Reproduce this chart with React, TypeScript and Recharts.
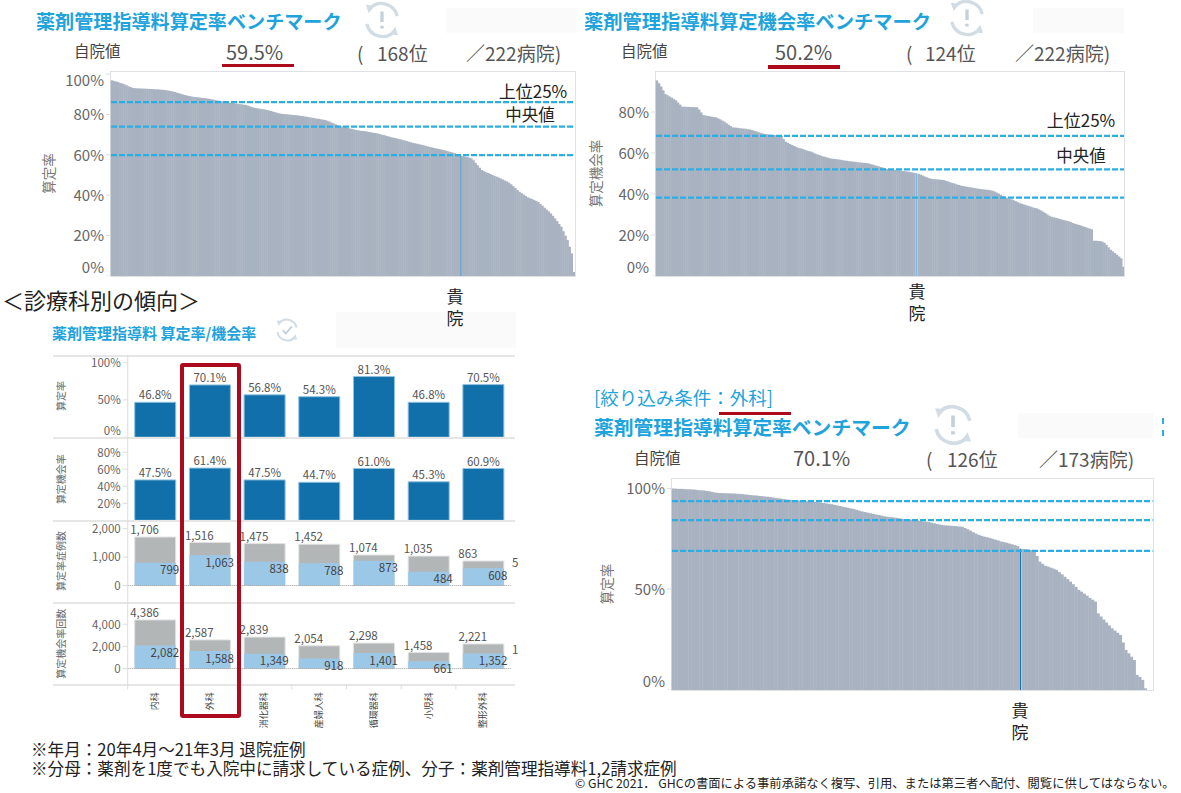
import { Bar, BarChart, LabelList, ReferenceLine, XAxis, YAxis } from "recharts";

const FONT = '"Noto Sans CJK JP", "Noto Sans", sans-serif';
const BLUE_TEXT = "#1ea3dc";
const RED = "#ad0a1e";
const BAR_GREY = "#a8b2c0";
const DASH = "#2aaee4";

const rateAll = [
  96.9, 96.6, 96.3, 96.0, 95.6, 95.3, 94.9, 94.4, 93.9, 93.5,
  93.1, 93.0, 92.9, 92.9, 92.8, 92.8, 92.7, 92.7, 92.6, 92.6,
  92.5, 92.4, 92.4, 92.3, 92.2, 92.1, 92.0, 91.8, 91.6, 91.4,
  91.1, 90.8, 90.5, 90.2, 89.9, 89.6, 89.3, 89.1, 88.9, 88.7,
  88.6, 88.5, 88.3, 88.2, 88.1, 88.0, 87.8, 87.6, 87.4, 87.2,
  87.0, 86.8, 86.6, 86.4, 86.2, 86.1, 85.9, 85.7, 85.6, 85.4,
  85.3, 85.1, 85.0, 84.8, 84.7, 84.4, 84.0, 83.6, 83.3, 83.1,
  82.9, 82.8, 82.6, 82.5, 82.2, 82.0, 81.7, 81.4, 81.1, 80.8,
  80.5, 80.3, 80.2, 80.1, 80.0, 79.9, 79.8, 79.7, 79.6, 79.5,
  79.3, 79.2, 79.0, 78.9, 78.7, 78.5, 78.3, 78.1, 77.9, 77.8,
  77.6, 77.4, 77.2, 76.9, 76.5, 76.0, 75.6, 75.1, 74.7, 74.3,
  74.0, 73.8, 73.6, 73.3, 73.0, 72.8, 72.5, 72.3, 72.1, 71.9,
  71.8, 71.7, 71.5, 71.3, 71.1, 70.9, 70.8, 70.6, 70.3, 70.0,
  69.8, 69.5, 69.2, 68.9, 68.6, 68.4, 68.2, 67.9, 67.7, 67.4,
  67.1, 66.8, 66.5, 66.2, 65.9, 65.7, 65.5, 65.2, 65.0, 64.8,
  64.5, 64.2, 63.9, 63.7, 63.4, 63.2, 63.0, 62.8, 62.5, 62.3,
  62.0, 61.7, 61.4, 61.1, 60.8, 60.4, 60.0, 59.5, 59.3, 59.1,
  58.9, 58.6, 58.3, 57.3, 56.0, 54.8, 53.6, 52.5, 51.9, 51.4,
  51.0, 50.5, 50.0, 49.6, 49.2, 48.8, 48.3, 47.8, 47.3, 46.8,
  46.2, 45.4, 44.5, 43.6, 42.6, 41.7, 41.0, 40.3, 39.6, 38.9,
  38.5, 38.1, 37.6, 37.1, 36.6, 35.7, 34.8, 33.8, 32.9, 32.0,
  31.0, 29.8, 28.5, 27.2, 25.8, 24.4, 22.2, 20.0, 17.8, 14.5,
  11.2, 2.0,
];

const opportunityAll = [
  95.4, 94.0, 92.4, 90.6, 88.8, 88.2, 87.6, 87.0, 86.3, 85.7,
  84.6, 83.6, 82.6, 82.6, 82.5, 82.5, 82.4, 82.4, 82.3, 82.3,
  81.2, 79.8, 78.5, 78.3, 78.1, 77.9, 77.7, 77.5, 77.4, 76.9,
  76.4, 75.8, 75.3, 74.5, 73.8, 73.1, 72.5, 72.4, 72.3, 72.1,
  72.0, 71.9, 71.8, 71.6, 71.5, 71.2, 70.9, 70.6, 70.2, 69.9,
  69.6, 69.3, 69.2, 69.0, 68.9, 68.8, 68.7, 68.5, 68.4, 68.3,
  66.8, 65.5, 65.0, 64.4, 63.9, 63.4, 62.9, 62.5, 62.3, 62.0,
  61.6, 61.2, 60.9, 60.7, 60.2, 59.7, 59.3, 59.0, 58.6, 58.3,
  58.0, 57.7, 57.4, 57.2, 57.1, 57.0, 56.8, 56.7, 56.5, 56.3,
  56.2, 56.0, 55.9, 55.8, 55.7, 55.5, 55.4, 55.3, 55.2, 55.1,
  55.0, 54.7, 54.4, 54.1, 53.8, 53.5, 53.2, 52.9, 52.5, 52.2,
  52.1, 52.0, 51.8, 51.7, 51.6, 51.5, 51.3, 51.2, 51.0, 50.9,
  50.7, 50.5, 50.3, 50.2, 49.8, 49.4, 49.0, 48.5, 48.1, 47.7,
  47.4, 47.3, 47.2, 47.1, 47.0, 46.9, 46.8, 46.4, 46.1, 45.7,
  45.4, 45.1, 44.7, 44.4, 44.1, 43.9, 43.7, 43.5, 43.3, 43.2,
  43.0, 42.8, 42.6, 42.5, 42.3, 42.2, 42.1, 42.0, 41.8, 41.6,
  41.2, 40.7, 40.2, 39.6, 39.0, 38.4, 38.1, 37.7, 37.4, 37.0,
  36.5, 36.0, 35.5, 35.2, 34.9, 34.5, 34.2, 33.9, 33.5, 33.2,
  33.0, 32.5, 32.0, 31.4, 30.7, 30.0, 29.4, 28.9, 28.6, 28.4,
  28.1, 27.8, 27.5, 27.2, 27.0, 26.7, 26.3, 25.9, 25.5, 25.2,
  24.9, 24.6, 24.2, 23.9, 23.5, 23.1, 22.8, 17.2, 17.2, 17.1,
  17.0, 16.8, 16.2, 15.2, 14.0, 12.8, 12.0, 11.2, 10.4, 9.5,
  8.6, 4.5,
];

const rateSurgery = [
  100, 99.9, 99.8, 99.8, 99.7, 99.6, 99.6, 99.5, 99.4, 99.2,
  99.1, 99.0, 98.8, 98.6, 98.3, 98.0, 97.8, 97.7, 97.7, 97.6,
  97.6, 97.5, 97.5, 97.4, 97.3, 97.2, 97.0, 96.9, 96.7, 96.6,
  96.5, 96.3, 96.2, 96.0, 95.9, 95.7, 95.5, 95.3, 95.1, 94.9,
  94.7, 94.5, 94.4, 94.2, 94.1, 94.0, 93.9, 93.8, 93.7, 93.6,
  93.5, 93.3, 93.2, 93.0, 92.8, 92.6, 92.4, 92.2, 91.9, 91.6,
  91.3, 91.0, 90.7, 90.4, 90.1, 89.8, 89.4, 89.0, 88.6, 88.3,
  88.0, 87.7, 87.4, 87.1, 86.8, 86.5, 86.2, 86.0, 85.8, 85.7,
  85.5, 85.3, 85.1, 84.9, 84.8, 84.6, 84.5, 84.3, 84.1, 83.9,
  83.7, 83.6, 83.3, 83.0, 82.7, 82.4, 82.1, 81.8, 81.7, 81.6,
  81.5, 81.4, 81.3, 81.1, 81.0, 80.4, 79.8, 79.1, 78.3, 77.6,
  77.0, 76.5, 76.1, 75.8, 75.4, 75.0, 74.6, 74.2, 73.7, 73.4,
  73.1, 72.7, 72.3, 71.9, 71.4, 70.1, 70.0, 69.9, 69.7, 69.5,
  69.2, 66.5, 63.7, 62.6, 61.6, 61.2, 60.7, 60.2, 59.6, 58.5,
  57.4, 56.2, 55.0, 53.8, 52.5, 51.2, 49.7, 48.8, 47.8, 46.8,
  45.7, 44.8, 43.9, 38.0, 36.5, 35.0, 33.5, 32.0, 30.6, 29.5,
  28.4, 27.3, 23.6, 19.9, 18.2, 16.5, 14.9, 7.5, 6.5, 5.0,
  0.8, 0, 0,
];

const departments = ["内科", "外科", "消化器科", "産婦人科", "循環器科", "小児科", "整形外科"];
const deptRate = [46.8, 70.1, 56.8, 54.3, 81.3, 46.8, 70.5];
const deptOpportunity = [47.5, 61.4, 47.5, 44.7, 61.0, 45.3, 60.9];
const caseTotal = [1706, 1516, 1475, 1452, 1074, 1035, 863];
const caseHit = [799, 1063, 838, 788, 873, 484, 608];
const countTotal = [4386, 2587, 2839, 2054, 2298, 1458, 2221];
const countHit = [2082, 1588, 1349, 918, 1401, 661, 1352];

const T = ({ x, y, size, color = "#444", weight = 400, center = false, children }: any) => (
  <div
    style={{
      position: "absolute",
      left: x,
      top: y,
      transform: `translate(${center ? "-50%" : "0"}, -50%)`,
      fontSize: size,
      color,
      fontWeight: weight,
      whiteSpace: "nowrap",
      lineHeight: 1,
    }}
  >
    {children}
  </div>
);

// the own-hospital marker, wrapped in two lines like the source tile
const OwnMark = ({ x, y }: any) => (
  <div style={{ position: "absolute", left: x - 10, top: y, width: 20, fontSize: 17, lineHeight: "22px", color: "#222", textAlign: "center" }}>
    貴院
  </div>
);

const Box = ({ x, y, w, h, style }: any) => (
  <div style={{ position: "absolute", left: x, top: y, width: w, height: h, boxSizing: "border-box", ...style }} />
);

const Cycle = ({ x, y, size, check = false }: any) => (
  <svg style={{ position: "absolute", left: x - size / 2, top: y - size / 2 }} width={size} height={size} viewBox="0 0 40 40">
    <g fill="none" stroke="#d2dce5" strokeWidth={3.5}>
      <path d="M7 8 A17 17 0 0 1 36 16" />
      <path d="M33 32 A17 17 0 0 1 4 24" />
    </g>
    <path d="M3 4 L12 5 L6 13 Z M37 36 L28 35 L34 27 Z" fill="#d2dce5" />
    {check ? (
      <path d="M13 20 L18 26 L28 14" fill="none" stroke="#c4d0da" strokeWidth={3} />
    ) : (
      <path d="M20 11 V22 M20 26 V29" fill="none" stroke="#c4d0da" strokeWidth={3.5} />
    )}
  </svg>
);

const makeTick = (format: (v: number) => string, nudge: Record<number, number>, size: number) => (props: any) => {
  const { x, y, payload } = props;
  return (
    <text x={x} y={y + (nudge[payload.value] ?? 0)} dy="0.38em" textAnchor="end" fontSize={size} fontFamily={FONT} fill="#666">
      {format(payload.value)}
    </text>
  );
};

const percent = (v: number) => `${v}%`;
const comma = (v: number) => v.toLocaleString("en-US");

const BenchChart = ({ values, own, ownColor, ownWidth, lines, ticks, nudge, top, left, right, bottom, maxY, axisName, nameX }: any) => {
  const data = values.map((value: number, i: number) => ({ rank: i + 1, value }));
  const gutter = 90;
  const pad = 10;
  const band = (right - left) / values.length;
  // bars overlap a little so the hairline seams stay faint
  const drawBar = (p: any) => {
    const width = p.index === own ? ownWidth : band + 0.4;
    return (
      <rect
        x={p.x + p.width / 2 - width / 2}
        y={p.y}
        width={width}
        height={p.height}
        fill={p.index === own ? ownColor : BAR_GREY}
      />
    );
  };
  return (
    <>
      <Box x={left - 1} y={top} w={right - left + 2} h={bottom - top + 1} style={{ border: "1px solid #dfe1e4" }} />
      <div style={{ position: "absolute", left: left - gutter, top: top - pad }}>
        <BarChart
          width={right - left + gutter}
          height={bottom - top + pad}
          data={data}
          barSize={band}
          margin={{ top: pad, right: 0, bottom: 0, left: 0 }}
        >
          <XAxis dataKey="rank" hide />
          <YAxis
            width={gutter}
            domain={[0, maxY]}
            ticks={ticks}
            interval={0}
            allowDataOverflow
            axisLine={false}
            tickLine={{ stroke: "#ddd" }}
            tickSize={5}
            tick={makeTick(percent, nudge, 15)}
            label={{
              value: axisName,
              angle: -90,
              position: "insideLeft",
              offset: nameX,
              style: { textAnchor: "middle", fontSize: 13.5, fill: "#777", fontFamily: FONT },
            }}
          />
          <Bar dataKey="value" fill={BAR_GREY} shape={drawBar} isAnimationActive={false} />
          {lines.map((v: number) => (
            <ReferenceLine key={v} y={v} stroke={DASH} strokeWidth={2.2} strokeDasharray="6 2" />
          ))}
        </BarChart>
      </div>
    </>
  );
};

const TopLabel = ({ x, y, width, value }: any) => (
  <text x={x + width / 2} y={y - 7} dy="0.36em" textAnchor="middle" fontSize={11.5} fontFamily={FONT} fill="#555">
    {value.toFixed(1)}%
  </text>
);

const TotalLabel = ({ x, y, value }: any) => (
  <text x={x - 4.5} y={y - 7} dy="0.36em" textAnchor="start" fontSize={11.5} fontFamily={FONT} fill="#555">
    {comma(value)}
  </text>
);

const HitLabel = ({ x, y, width, value }: any) => (
  <text x={x + width + 3.5} y={y + 7.5} dy="0.36em" textAnchor="end" fontSize={11.5} fontFamily={FONT} fill="#444">
    {comma(value)}
  </text>
);

const DeptTick = (props: any) => {
  const { x, y, payload } = props;
  return (
    <g>
      <line x1={x - 27.35} x2={x - 27.35} y1={y - 8} y2={y - 3} stroke="#ddd" />
      <text transform={`translate(${x + 3},${y}) rotate(-90)`} textAnchor="end" fontSize={9} fontFamily={FONT} fill="#444">
        {payload.value}
      </text>
    </g>
  );
};

const panelLeft = 53;
const axisGutter = 74.7;
const panelWidth = 462;
const chartMargin = { top: 0, right: panelWidth - axisGutter - 382.9, bottom: 0, left: 0 };

const yAxisFor = (name: string, domain: number[], ticks: number[], format: (v: number) => string, nudge = {}) => (
  <YAxis
    width={axisGutter}
    domain={domain}
    ticks={ticks}
    interval={0}
    allowDataOverflow
    axisLine={{ stroke: "#ddd" }}
    tickLine={{ stroke: "#ddd" }}
    tickSize={5}
    tick={makeTick(format, nudge, 11.5)}
    label={{
      value: name,
      angle: -90,
      position: "insideLeft",
      offset: 8.5,
      style: { textAnchor: "middle", fontSize: 10, fill: "#666", fontFamily: FONT },
    }}
  />
);

const RatePanel = ({ values, top, height, name, domain, ticks, nudge }: any) => {
  const data = departments.map((dept, i) => ({ dept, value: values[i] }));
  return (
    <div style={{ position: "absolute", left: panelLeft, top }}>
      <BarChart width={panelWidth} height={height} data={data} barSize={41} margin={chartMargin}>
        <XAxis dataKey="dept" hide />
        {yAxisFor(name, domain, ticks, percent, nudge)}
        <Bar dataKey="value" fill="#1170a9" stroke="#8fc1e2" isAnimationActive={false}>
          <LabelList dataKey="value" content={TopLabel} />
        </Bar>
      </BarChart>
    </div>
  );
};

const CountPanel = ({ totals, hits, top, height, name, domain, ticks, showDepts = false }: any) => {
  const data = departments.map((dept, i) => ({ dept, total: totals[i], hit: hits[i] }));
  return (
    <div style={{ position: "absolute", left: panelLeft, top }}>
      <BarChart width={panelWidth} height={height} data={data} barSize={41} barGap={-41} margin={chartMargin}>
        {showDepts ? (
          <XAxis dataKey="dept" height={height - 81.3} axisLine={false} tickLine={false} interval={0} tick={DeptTick} />
        ) : (
          <XAxis dataKey="dept" hide />
        )}
        {yAxisFor(name, domain, ticks, comma)}
        <ReferenceLine y={0} stroke="#999" strokeDasharray="1 1" />
        <Bar dataKey="total" fill="#b3b6b6" stroke="#e3e3e3" isAnimationActive={false}>
          <LabelList dataKey="total" content={TotalLabel} />
        </Bar>
        <Bar dataKey="hit" fill="#9cc8e8" isAnimationActive={false}>
          <LabelList dataKey="hit" content={HitLabel} />
        </Bar>
      </BarChart>
    </div>
  );
};

const Hr = ({ y }: any) => <Box x={53} y={y} w={462} h={1.5} style={{ background: "#e6e6e6" }} />;

export default function App() {
  return (
    <div style={{ position: "absolute", left: 0, top: 0, width: 1181, height: 793, overflow: "hidden", background: "#fff", fontFamily: FONT }}>
      {/* faint blanked-out tiles sit behind everything */}
      <Box x={446} y={8} w={130} h={25} style={{ background: "#fafafa" }} />
      <Box x={1033} y={8} w={91} h={25} style={{ background: "#fafafa" }} />
      <Box x={336} y={312} w={180} h={36} style={{ background: "#fafafa" }} />
      <Box x={1018} y={413} w={135} h={25} style={{ background: "#fafafa" }} />

      {/* all hospitals: rate */}
      <T x={36} y={21.5} size={19.1} color={BLUE_TEXT} weight={700}>薬剤管理指導料算定率ベンチマーク</T>
      <Cycle x={382} y={20} size={38} />
      <T x={74} y={51} size={15.5}>自院値</T>
      <T x={226} y={52} size={20} color="#555">59.5%</T>
      <Box x={222} y={63.5} w={72} h={3.5} style={{ background: RED }} />
      <T x={357} y={52} size={19} color="#555">(</T>
      <T x={377} y={52} size={19} color="#555">168位</T>
      <T x={466} y={52} size={19} color="#555">／222病院)</T>
      <BenchChart
        values={rateAll} own={167} ownColor="#4a94c4" ownWidth={1.5} lines={[86.1, 74, 59.8]} ticks={[0, 20, 40, 60, 80, 100]}
        nudge={{ 100: 6, 0: -9 }} top={71} bottom={276} left={111} right={575} maxY={101.5} axisName="算定率" nameX={28}
      />
      <T x={533} y={90} size={17} center color="#222">上位25%</T>
      <T x={530} y={114} size={16.5} center color="#222">中央値</T>
      <OwnMark x={455} y={285} />

      {/* all hospitals: opportunity */}
      <T x={584} y={21.5} size={19.3} color={BLUE_TEXT} weight={700}>薬剤管理指導料算定機会率ベンチマーク</T>
      <Cycle x={967} y={18} size={38} />
      <T x={621} y={51} size={15.5}>自院値</T>
      <T x={775} y={52} size={20} color="#555">50.2%</T>
      <Box x={768} y={65} w={72} h={3.5} style={{ background: RED }} />
      <T x={906} y={52} size={19} color="#555">(</T>
      <T x={925} y={52} size={19} color="#555">124位</T>
      <T x={1015} y={52} size={19} color="#555">／222病院)</T>
      <BenchChart
        values={opportunityAll} own={123} ownColor="#7fb8de" ownWidth={1.5} lines={[68.4, 52, 38.2]} ticks={[0, 20, 40, 60, 80]}
        nudge={{ 0: -9 }} top={71} bottom={276} left={655.5} right={1124} maxY={100} axisName="算定機会率" nameX={30}
      />
      <T x={1081} y={119} size={17} center color="#222">上位25%</T>
      <T x={1081} y={155} size={16.5} center color="#222">中央値</T>
      <OwnMark x={917} y={280} />

      {/* by department */}
      <T x={2} y={299} size={22} color="#222">＜診療科別の傾向＞</T>
      <T x={52} y={332} size={15} color={BLUE_TEXT} weight={700}>薬剤管理指導料 算定率/機会率</T>
      <Cycle x={287} y={330} size={24} check />
      <Hr y={355} />
      <Hr y={437} />
      <Hr y={520} />
      <Hr y={602} />
      <Hr y={684} />
      <RatePanel values={deptRate} top={355.3} height={82.2} name="算定率" domain={[0, 110.2]} ticks={[0, 50, 100]} nudge={{ 0: -6.5 }} />
      <RatePanel values={deptOpportunity} top={437.7} height={82.3} name="算定機会率" domain={[0, 96.8]} ticks={[20, 40, 60, 80]} nudge={{}} />
      <CountPanel totals={caseTotal} hits={caseHit} top={520.3} height={82.2} name="算定率症例数" domain={[-586, 2305]} ticks={[0, 1000, 2000]} />
      <CountPanel totals={countTotal} hits={countHit} top={602.7} height={125} name="算定機会率回数" domain={[-1414, 5910]} ticks={[0, 2000, 4000]} showDepts />
      <T x={512} y={563} size={11.5} color="#555">5</T>
      <T x={512} y={650} size={11.5} color="#555">1</T>
      <Box x={179.5} y={362.5} w={61} h={355} style={{ border: `4px solid ${RED}`, borderRadius: 3 }} />

      {/* surgery only */}
      <T x={594} y={397} size={18.5} color={BLUE_TEXT}>[絞り込み条件：外科]</T>
      <Box x={719} y={411.5} w={72} h={3.5} style={{ background: RED }} />
      <T x={594} y={427} size={19.8} color={BLUE_TEXT} weight={700}>薬剤管理指導料算定率ベンチマーク</T>
      <Cycle x={953} y={425} size={42} />
      <Box x={1162} y={418} w={2} h={18} style={{ borderLeft: `2px dashed ${DASH}` }} />
      <T x={634} y={458} size={15.5}>自院値</T>
      <T x={793} y={458} size={20} color="#555">70.1%</T>
      <T x={926} y={458} size={19} color="#555">(</T>
      <T x={947} y={458} size={19} color="#555">126位</T>
      <T x={1039} y={458} size={19} color="#555">／173病院)</T>
      <BenchChart
        values={rateSurgery} own={125} ownColor="#1570a8" ownWidth={1.6} lines={[93.7, 84.3, 69]} ticks={[0, 50, 100]}
        nudge={{ 0: -9 }} top={478} bottom={690} left={672} right={1152.5} maxY={105.2} axisName="算定率" nameX={25}
      />
      <OwnMark x={1020} y={699} />

      {/* notes */}
      <div style={{ position: "absolute", left: 31, top: 740, fontSize: 16.6, lineHeight: "19px", color: "#222", whiteSpace: "nowrap" }}>
        ※年月：20年4月～21年3月 退院症例
        <br />
        ※分母：薬剤を1度でも入院中に請求している症例、分子：薬剤管理指導料1,2請求症例
      </div>
      <T x={575} y={782.5} size={12.3} color="#222">© GHC 2021． GHCの書面による事前承諾なく複写、引用、または第三者へ配付、閲覧に供してはならない。</T>
    </div>
  );
}
